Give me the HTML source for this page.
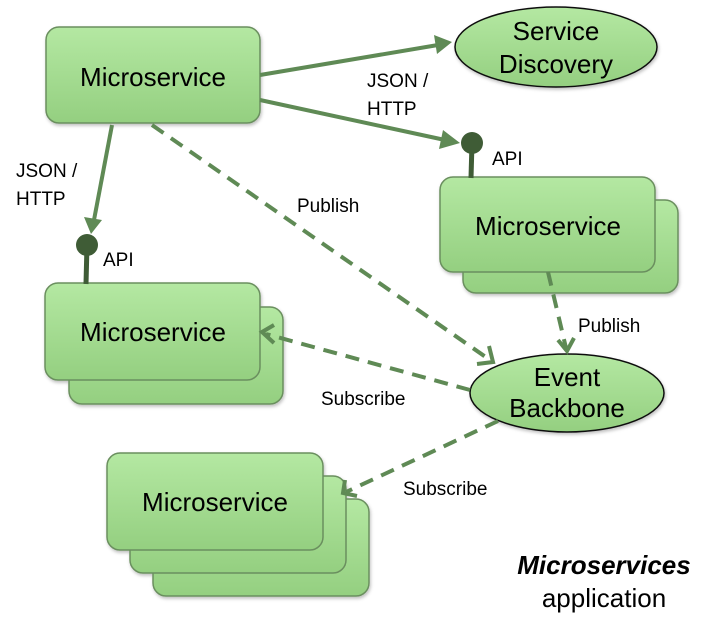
<!DOCTYPE html>
<html><head><meta charset="utf-8"><style>
html,body{margin:0;padding:0;background:#fff;}
svg{display:block;}
text{font-family:"Liberation Sans",sans-serif;fill:#000;}
</style></head><body>
<svg width="720" height="627" viewBox="0 0 720 627" xmlns="http://www.w3.org/2000/svg">
<defs>
<linearGradient id="g" x1="0" y1="0" x2="0" y2="1">
<stop offset="0" stop-color="#b4e8a2"/><stop offset="1" stop-color="#94cf80"/>
</linearGradient>
<filter id="sh" x="-10%" y="-10%" width="130%" height="130%"><feDropShadow dx="1" dy="2" stdDeviation="1.5" flood-color="#000" flood-opacity="0.25"/></filter>
</defs>
<g stroke="#6b8f5e" stroke-width="1.5" fill="url(#g)" filter="url(#sh)">
<rect x="46" y="27" width="214" height="96" rx="13"/>
<rect x="463" y="200" width="215" height="93" rx="13"/>
<rect x="440" y="177" width="215" height="95" rx="13"/>
<rect x="69" y="307" width="214" height="97" rx="13"/>
<rect x="45" y="283" width="215" height="97" rx="13"/>
<rect x="153" y="499" width="216" height="97" rx="13"/>
<rect x="130" y="476" width="216" height="97" rx="13"/>
<rect x="107" y="453" width="216" height="97" rx="13"/>
</g>
<g stroke="#111" stroke-width="1.5" fill="url(#g)" filter="url(#sh)">
<ellipse cx="556" cy="47" rx="101" ry="40"/>
<ellipse cx="567" cy="393" rx="97" ry="39"/>
</g>
<g font-size="26" text-anchor="middle">
<text x="153" y="86">Microservice</text>
<text x="548" y="235">Microservice</text>
<text x="153" y="341">Microservice</text>
<text x="215" y="511">Microservice</text>
<text x="556" y="40">Service</text>
<text x="556" y="73">Discovery</text>
<text x="567" y="386">Event</text>
<text x="567" y="417">Backbone</text>
</g>
<g stroke="#5f8a55" stroke-width="4" fill="none">
<line x1="260" y1="75" x2="438" y2="45"/>
<line x1="260" y1="100" x2="445" y2="140"/>
<line x1="112" y1="125" x2="94" y2="220"/>
</g>
<g fill="#5f8a55">
<polygon points="452,42 434,35 437,54"/>
<polygon points="460,143 443,130 439,149"/>
<polygon points="91,234 84,217 102,220"/>
</g>
<g stroke="#3f5c36" stroke-width="5"><line x1="87" y1="245" x2="86" y2="284"/><line x1="472" y1="143" x2="471" y2="178"/></g>
<circle cx="87" cy="245" r="11" fill="#3f5c36"/>
<circle cx="472" cy="143" r="11" fill="#3f5c36"/>
<g stroke="#5f8a55" stroke-width="4" fill="none" stroke-dasharray="14,9">
<line x1="152" y1="125" x2="490" y2="360"/>
<line x1="548" y1="272" x2="566" y2="348"/>
<line x1="470" y1="390" x2="266" y2="334"/>
<line x1="498" y1="421" x2="346" y2="492"/>
</g>
<g stroke="#5f8a55" stroke-width="4" fill="none" stroke-linejoin="miter">
<polyline points="477,364 493,362 489,346"/>
<polyline points="558,340 567,351 574,338"/>
<polyline points="274,325 262,332 274,343"/>
<polyline points="345,480 343,493 357,496"/>
</g>
<g font-size="19">
<text x="16" y="177">JSON /</text>
<text x="16" y="205">HTTP</text>
<text x="367" y="87">JSON /</text>
<text x="367" y="115">HTTP</text>
<text x="103" y="266">API</text>
<text x="492" y="165">API</text>
<text x="297" y="212">Publish</text>
<text x="578" y="332">Publish</text>
<text x="321" y="405">Subscribe</text>
<text x="403" y="495">Subscribe</text>
</g>
<text x="604" y="574" font-size="26" font-weight="bold" font-style="italic" text-anchor="middle">Microservices</text>
<text x="604" y="607" font-size="26" text-anchor="middle">application</text>
</svg>
</body></html>
